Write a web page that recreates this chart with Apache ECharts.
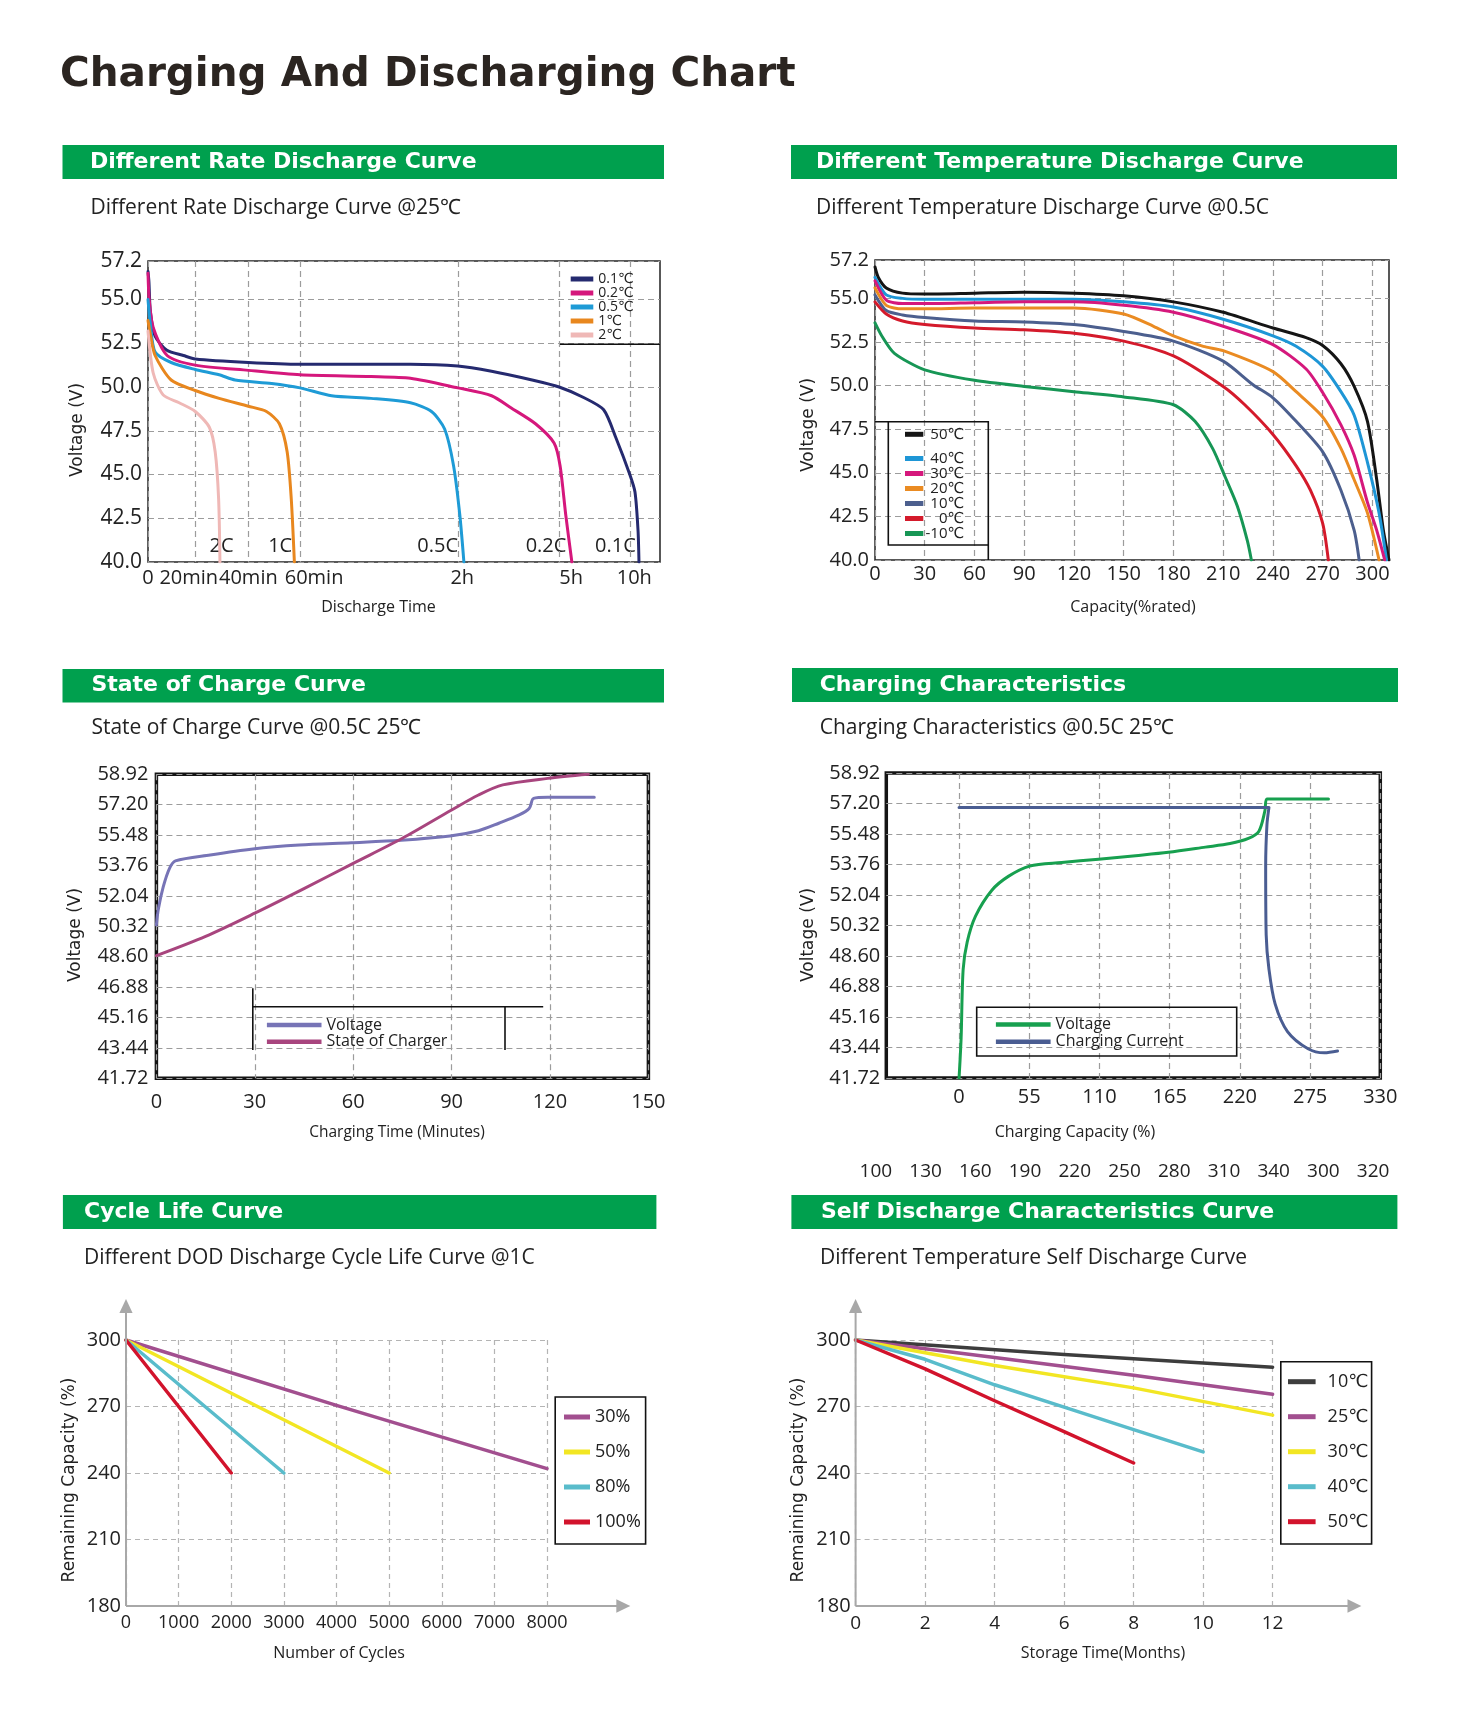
<!DOCTYPE html>
<html><head><meta charset="utf-8">
<script src="https://cdn.jsdelivr.net/npm/echarts@6/dist/echarts.min.js"></script>
<style>html,body{margin:0;padding:0;background:#fff}#c{width:1458px;height:1720px}</style>
</head><body><div id="c"></div>
<script>
// ---------------- DATA ----------------
// Panel 1: different rate discharge  [minutes, volts]
const RATE_TICK_MIN = [0, 20, 40, 60, 120, 300, 600];
const RATE_TICK_LABELS = ['0', '20min', '40min', '60min', '2h', '5h', '10h'];
const RATE_NAMES = ['0.1℃', '0.2℃', '0.5℃', '1℃', '2℃'];
const RATE_END_LABELS = ['2C', '1C', '0.5C', '0.2C', '0.1C'];
const RATE_01C = [[0,56.6],[0.4,56.0],[1.0,54.3],[3,52.9],[8,52.1],[15,51.8],[20,51.6],[40,51.4],[60,51.3],[102,51.3],[120,51.2],[180,50.9],[252,50.4],[300,50.0],[404,49.4],[489,48.7],[541,47.1],[600,45.0],[622,44.0],[635,41.8],[639,40.0]];
const RATE_02C = [[0,56.5],[0.5,55.0],[2.2,53.4],[8.1,51.8],[20,51.25],[40,50.95],[60,50.7],[87,50.6],[102,50.5],[120,49.95],[180,49.5],[215,48.8],[258,47.9],[291,46.8],[304,45.5],[328,42.7],[354,40.0]];
const RATE_05C = [[0,55.0],[1,53.6],[3,52.0],[9.8,51.4],[20,51.0],[29,50.7],[35,50.4],[49,50.2],[60,49.95],[72,49.5],[87,49.35],[102,49.1],[110,48.6],[115,47.6],[118.4,45.5],[123.6,42.7],[130.9,40.0]];
const RATE_1C = [[0,53.8],[1,53.0],[3,51.8],[9.8,50.4],[20,49.8],[29,49.35],[40,48.9],[47,48.6],[52,47.9],[55,46.3],[56.6,43.6],[57.8,40.0]];
const RATE_2C = [[0,53.2],[2.2,50.8],[6.4,49.55],[13.2,49.1],[20,48.6],[25.3,47.7],[27.5,46.3],[28.8,43.6],[29.3,40.0]];
const VOLT_TICKS_A = [40, 42.5, 45, 47.5, 50, 52.5, 55, 57.2];

// Panel 2: different temperature discharge [capacity %, volts]
const TEMP_NAMES = ['50℃', '40℃', '30℃', '20℃', '10℃', '0℃', '-10℃'];
const CAP_TICKS = [0, 30, 60, 90, 120, 150, 180, 210, 240, 270, 300];
const T_50 = [[0,56.8],[2,56.2],[6.8,55.6],[16.6,55.3],[30,55.25],[60,55.3],[90,55.35],[120,55.3],[150,55.15],[180,54.8],[210,54.2],[240,53.3],[260,52.75],[270,52.3],[281,51.25],[289,49.95],[297,47.95],[302.6,44.6],[306.6,41.7],[310,40.0]];
const T_40 = [[0,56.2],[6.8,55.2],[16.6,55.0],[30,54.95],[60,54.95],[90,54.95],[120,54.95],[150,54.8],[180,54.5],[210,53.8],[240,52.85],[254,52.25],[270,51.1],[281,49.65],[289,48.3],[297,45.6],[304,42.7],[308.5,40.0]];
const T_30 = [[0,56.0],[6.8,54.9],[16.6,54.7],[30,54.7],[60,54.75],[90,54.8],[120,54.8],[150,54.6],[180,54.2],[210,53.4],[240,52.35],[260,50.95],[270,49.6],[281,47.75],[289,46.0],[297,43.3],[302.6,41.7],[307.4,40.0]];
const T_20 = [[0,55.6],[6.8,54.6],[16.6,54.4],[30,54.4],[60,54.45],[90,54.45],[120,54.45],[150,54.1],[168,53.4],[180,52.85],[198,52.25],[210,52.0],[240,50.8],[254,49.65],[270,48.2],[281,46.4],[289,44.6],[297,42.7],[304,40.0]];
const T_10 = [[0,55.2],[6.8,54.3],[16.6,54.05],[30,53.9],[60,53.7],[90,53.65],[120,53.5],[150,53.1],[180,52.55],[210,51.4],[228,50.05],[240,49.3],[254,47.95],[270,46.2],[281,44.0],[289,41.7],[292,40.0]];
const T_0 = [[0,54.8],[6.8,54.1],[16.6,53.7],[30,53.5],[60,53.3],[90,53.2],[120,53.0],[150,52.55],[180,51.7],[210,49.95],[223,48.9],[240,47.2],[254,45.4],[262.6,44.0],[270,42.1],[273.4,40.0]];
const T_M10 = [[0,53.6],[4.4,52.8],[11.7,51.85],[30,50.9],[60,50.3],[90,49.95],[120,49.65],[150,49.35],[180,48.9],[193,47.95],[203.6,46.4],[211,44.8],[218.5,43.1],[224.6,41.1],[227,40.0]];

// Panel 3: state of charge [minutes, volts]
const VOLT_TICKS_B = [41.72, 43.44, 45.16, 46.88, 48.60, 50.32, 52.04, 53.76, 55.48, 57.20, 58.92];
const TIME_TICKS = [0, 30, 60, 90, 120, 150];
const SOC_NAMES = ['Voltage', 'State of Charger'];
const SOC_VOLTAGE = [[0,50.4],[0.6,51.3],[2.1,52.56],[4,53.6],[5.8,54.02],[16.4,54.36],[29.4,54.7],[43.6,54.92],[59.4,55.05],[74.6,55.19],[89.5,55.43],[98.2,55.73],[104.4,56.15],[110.6,56.62],[113.7,57.0],[115,57.56],[119.3,57.62],[133.5,57.62]];
const SOC_CHARGE = [[0,48.66],[15,49.75],[30,51.06],[45,52.45],[60,53.88],[75,55.3],[90,56.9],[98.2,57.75],[105.6,58.32],[119.3,58.69],[131.7,58.92]];

// Panel 4: charging characteristics [capacity %, volts]
const CHG_TICKS = [0, 55, 110, 165, 220, 275, 330];
const CHG_NAMES = ['Voltage', 'Charging Current'];
const CHG_VOLTAGE = [[0,41.72],[1.6,43.95],[3.2,47.84],[6.4,49.4],[12.9,50.85],[25.7,52.31],[38.6,53.09],[55.3,53.67],[80.4,53.87],[109.3,54.06],[138.3,54.26],[164,54.45],[193,54.74],[212.3,54.94],[226.7,55.23],[234.8,55.62],[239.6,56.78],[241.2,57.46],[289.4,57.46]];
const CHG_CURRENT = [[0,56.98],[242.8,56.98],[241.2,56.0],[240.2,53.67],[240.6,49.79],[242.8,47.84],[247.6,45.9],[257.3,44.34],[273.4,43.37],[286.2,43.14],[296.5,43.24]];
const STRAY_TICK_LABELS = ['100', '130', '160', '190', '220', '250', '280', '310', '340', '300', '320'];

// Panel 5: cycle life [cycles, remaining capacity %]
const DOD_NAMES = ['30%', '50%', '80%', '100%'];
const DOD_30 = [[0,300],[4000,270.5],[8000,242]];
const DOD_50 = [[0,300],[5000,240]];
const DOD_80 = [[0,300],[3000,240]];
const DOD_100 = [[0,300],[2000,240]];

// Panel 6: self discharge [months, remaining capacity %]
const SD_NAMES = ['10℃', '25℃', '30℃', '40℃', '50℃'];
const SD_10 = [[0,300],[6,293.5],[12,287.7]];
const SD_25 = [[0,300],[4,292.1],[8,284.1],[12,275.5]];
const SD_30 = [[0,300],[4,288.5],[8,278.4],[12,266.1]];
const SD_40 = [[0,300],[2,291.3],[4,279.8],[6,269.7],[8,259.6],[10,249.5]];
const SD_50 = [[0,300],[2,287],[4,272.6],[6,258.7],[8,244.5]];

// ---------------- LAYOUT / STYLE ----------------
const FONT = '"Open Sans", "DejaVu Sans", sans-serif';
const INK = '#222';
const GREEN = '#00a04e';
// non-linear time axis layout for panel 1 (axis units 0..100)
const RATE_AXIS_POS = [0, 9.23, 19.6, 29.7, 60.5, 80.3, 94.1];
const RATE_LABEL_STYLE = ['c', 'l13', 'c', 'r28', 'r9', 'r24', 'r9'];
function timeToPos(m) {
  const T = RATE_TICK_MIN, P = RATE_AXIS_POS;
  let i = 1;
  while (i < T.length - 1 && m > T[i]) i++;
  return P[i-1] + (m - T[i-1]) * (P[i] - P[i-1]) / (T[i] - T[i-1]);
}
const rateRich = {};
['c', 'l13', 'r28', 'r9', 'r24'].forEach(k => {
  const n = k === 'c' ? 0 : +k.slice(1);
  rateRich[k] = {fontSize:20, fontFamily:FONT, color:INK,
    padding: k[0] === 'l' ? [0, n, 0, 0] : (k[0] === 'r' ? [0, 0, 0, n] : 0)};
});

const GRIDS = [
  {left:148, top:261, width:512, height:301},
  {left:875, top:260, width:514, height:300},
  {left:156.4, top:774.3, width:492, height:304},
  {left:886.3, top:773, width:494, height:305},
  {left:126, top:1340, width:421, height:266},
  {left:855.6, top:1340, width:417, height:266},
  {left:851, top:1150, width:547, height:4}
];

const dashed = {show:true, lineStyle:{color:'#9c9c9c', width:1.2, type:[6,4]}};
const dashed2 = {show:true, lineStyle:{color:'#b4b4b4', width:1.2, type:[5,4]}};
function lbl(size, margin, fmt, custom) {
  const o = {fontSize:size, margin:margin, color:INK, fontFamily:FONT};
  if (fmt) o.formatter = fmt;
  if (custom) o.customValues = custom;
  return o;
}
function valAxis(gi, min, max, custom, label, split) {
  return {gridIndex:gi, type:'value', min:min, max:max,
    axisLine:{show:false}, axisTick:{show:false, customValues:custom},
    axisLabel:label, splitLine:split || dashed};
}
const rateLabel = lbl(20, 6, v => {
  const i = RATE_AXIS_POS.findIndex(p => Math.abs(p - v) < 0.01);
  return i < 0 ? '' : '{' + RATE_LABEL_STYLE[i] + '|' + RATE_TICK_LABELS[i] + '}';
}, RATE_AXIS_POS);
rateLabel.rich = rateRich;

const xAxes = [
  valAxis(0, 0, 100, RATE_AXIS_POS, rateLabel),
  valAxis(1, 0, 310, CAP_TICKS, lbl(20, 4, null, CAP_TICKS)),
  valAxis(2, 0, 150, TIME_TICKS, lbl(20, 14, null, TIME_TICKS)),
  valAxis(3, -57, 330, CHG_TICKS, lbl(20, 9, null, CHG_TICKS)),
  {gridIndex:4, type:'value', min:0, max:8000, interval:1000, axisLine:{show:false}, axisTick:{show:false}, axisLabel:lbl(18, 8, v => String(v)), splitLine:dashed2},
  {gridIndex:5, type:'value', min:0, max:12, interval:2, axisLine:{show:false}, axisTick:{show:false}, axisLabel:lbl(19, 8, v => String(v)), splitLine:dashed2},
  {gridIndex:6, type:'category', data:STRAY_TICK_LABELS, axisLine:{show:false}, axisTick:{show:false}, axisLabel:Object.assign(lbl(19, 8), {interval:0}), splitLine:{show:false}}
];
const yAxes = [
  valAxis(0, 40, 57.2, VOLT_TICKS_A, lbl(21, 6, v => v.toFixed(1), VOLT_TICKS_A)),
  valAxis(1, 40, 57.2, VOLT_TICKS_A, lbl(20, 6, v => v.toFixed(1), VOLT_TICKS_A)),
  valAxis(2, 41.72, 58.92, VOLT_TICKS_B, lbl(20, 8, v => v.toFixed(2), VOLT_TICKS_B)),
  valAxis(3, 41.72, 58.92, VOLT_TICKS_B, lbl(20, 6, v => v.toFixed(2), VOLT_TICKS_B)),
  {gridIndex:4, type:'value', min:180, max:300, interval:30, axisLine:{show:false}, axisTick:{show:false}, axisLabel:lbl(20, 5, v => String(v)), splitLine:dashed2},
  {gridIndex:5, type:'value', min:180, max:300, interval:30, axisLine:{show:false}, axisTick:{show:false}, axisLabel:lbl(20, 5, v => String(v)), splitLine:dashed2},
  {gridIndex:6, type:'value', show:false}
];

function line(name, data, color, gi, width, smooth) {
  return {type:'line', name:name, data:data, xAxisIndex:gi, yAxisIndex:gi, symbol:'none', showSymbol:false,
    smooth:smooth, lineStyle:{color:color, width:width, cap:'round', join:'round'}, itemStyle:{color:color},
    silent:true, animation:false, z:3};
}

const RATE_COLORS = ['#252a6f', '#d5177c', '#1e9bd6', '#e8871e', '#efb8b6'];
const TEMP_COLORS = ['#151515', '#1e96d6', '#d5187c', '#ea8b22', '#4c5f8e', '#d41a2b', '#179655'];
const SOC_COLORS = ['#7774b6', '#a8457e'];
const CHG_COLORS = ['#17a04f', '#4a5d92'];
const DOD_COLORS = ['#a24f8f', '#f2e623', '#59bccb', '#d2132c'];
const SD_COLORS = ['#3d3d3d', '#a24f8f', '#f2e623', '#59bccb', '#d2132c'];

const toPos = arr => arr.map(d => [timeToPos(d[0]), d[1]]);
const series = [];
[RATE_01C, RATE_02C, RATE_05C, RATE_1C, RATE_2C].forEach((d, i) => series.push(line(RATE_NAMES[i], toPos(d), RATE_COLORS[i], 0, 3, 0.25)));
[T_50, T_40, T_30, T_20, T_10, T_0, T_M10].forEach((d, i) => series.push(line(TEMP_NAMES[i], d, TEMP_COLORS[i], 1, 3, 0.25)));
[SOC_VOLTAGE, SOC_CHARGE].forEach((d, i) => series.push(line(SOC_NAMES[i], d, SOC_COLORS[i], 2, 3, 0.3)));
[CHG_VOLTAGE, CHG_CURRENT].forEach((d, i) => series.push(line(CHG_NAMES[i] + (i === 0 ? ' ' : ''), d, CHG_COLORS[i], 3, 3, 0.3)));
[DOD_30, DOD_50, DOD_80, DOD_100].forEach((d, i) => series.push(line(DOD_NAMES[i], d, DOD_COLORS[i], 4, 3.5, false)));
[SD_10, SD_25, SD_30, SD_40, SD_50].forEach((d, i) => series.push(line(SD_NAMES[i] + ' ', d, SD_COLORS[i], 5, 3.5, false)));

function legend(names, colors, left, top, o) {
  return Object.assign({orient:'vertical', icon:'rect', padding:0, selectedMode:false, left:left, top:top, z:20,
    data:names.map((n, i) => ({name:n, itemStyle:{color:colors[i], borderWidth:0}})),
    itemGap:0, itemWidth:22, itemHeight:5,
    textStyle:{fontSize:14, lineHeight:14, color:INK, fontFamily:FONT}}, o || {});
}
const tempLegendText = {fontSize:15, lineHeight:14.4, color:INK, fontFamily:FONT,
  rich:{r:{width:36, align:'right', fontSize:15, lineHeight:14.4, color:INK, fontFamily:FONT}}};
const legends = [
  legend(RATE_NAMES, RATE_COLORS, 570.7, 272, {itemWidth:22.6, itemHeight:5}),
  legend(TEMP_NAMES.slice(0, 1), TEMP_COLORS.slice(0, 1), 905, 426.8, {itemWidth:18.3, formatter:n => '{r|' + n + '}', textStyle:tempLegendText}),
  legend(TEMP_NAMES.slice(1), TEMP_COLORS.slice(1), 905, 451, {itemWidth:18.3, itemGap:0, formatter:n => '{r|' + n + '}', textStyle:tempLegendText}),
  legend(SOC_NAMES, SOC_COLORS, 266.9, 1017, {itemWidth:54.6, itemHeight:4.5, itemGap:0.7, textStyle:{fontSize:16, lineHeight:16, color:INK, fontFamily:FONT}}),
  legend(CHG_NAMES.map((n, i) => n + (i === 0 ? ' ' : '')), CHG_COLORS, 995.9, 1016.5, {itemWidth:54.7, itemHeight:4.5, itemGap:1.3, textStyle:{fontSize:16, lineHeight:16, color:INK, fontFamily:FONT}}),
  legend(DOD_NAMES, DOD_COLORS, 564, 1408, {itemWidth:26, itemHeight:5, itemGap:17, textStyle:{fontSize:18, lineHeight:18, color:INK, fontFamily:FONT}}),
  legend(SD_NAMES.map(n => n + ' '), SD_COLORS, 1288, 1372.7, {itemWidth:27.6, itemHeight:5, itemGap:17, textStyle:{fontSize:18, lineHeight:18, color:INK, fontFamily:FONT, padding:[0,0,0,7]}})
];

// ---------------- DECORATION (text, headers, frames) ----------------
function txt(x, y, text, font, fill) {
  return {type:'text', x:x, y:y, silent:true, style:{text:text, font:font, fill:fill || INK, align:'left', verticalAlign:'middle'}};
}
function vtxt(x, y, text, font) {
  return {type:'text', x:x, y:y, rotation:Math.PI/2, silent:true, style:{text:text, font:font, fill:INK, align:'center', verticalAlign:'middle'}};
}
function ctxt(x, y, text, font) {
  return {type:'text', x:x, y:y, silent:true, style:{text:text, font:font, fill:INK, align:'center', verticalAlign:'middle'}};
}
function header(x, y, w, h, text, tx) {
  return [
    {type:'rect', silent:true, shape:{x:x, y:y, width:w, height:h}, style:{fill:GREEN}},
    {type:'text', x:tx, y:y + h / 2, silent:true, style:{text:text, font:'bold 22px "DejaVu Sans"', fill:'#ffffff', align:'left', verticalAlign:'middle'}}
  ];
}
function pl(points, w, color) {
  return {type:'polyline', silent:true, z:10, shape:{points:points}, style:{stroke:color || '#111', lineWidth:w || 1.5, fill:null}};
}
const SUB = '21px "Open Sans"';
const AXN = '16px "Open Sans"';
const VN = '17px "DejaVu Sans"';
const AXC = '#a8a8a8';
const EL = '20px "Open Sans"';

const graphics = [].concat(
  [txt(60, 75, 'Charging And Discharging Chart', 'bold 40.5px "DejaVu Sans"', '#2b2521')],
  header(62.5, 145, 601.5, 34, 'Different Rate Discharge Curve', 90),
  header(791, 145, 606, 34, 'Different Temperature Discharge Curve', 816),
  header(62.5, 669, 601.5, 33.5, 'State of Charge Curve', 91.4),
  header(792, 668, 606, 34, 'Charging Characteristics', 819.7),
  header(62.9, 1195, 593.5, 34, 'Cycle Life Curve', 84),
  header(791.4, 1195, 606, 34, 'Self Discharge Characteristics Curve', 820.9),
  [
    txt(90.4, 208, 'Different Rate Discharge Curve @25℃', SUB),
    txt(816, 208, 'Different Temperature Discharge Curve @0.5C', SUB),
    txt(91.4, 728.5, 'State of Charge Curve @0.5C 25℃', SUB),
    txt(819.7, 728, 'Charging Characteristics @0.5C 25℃', SUB),
    txt(84, 1258.5, 'Different DOD Discharge Cycle Life Curve @1C', SUB),
    txt(820, 1258.5, 'Different Temperature Self Discharge Curve', SUB),

    vtxt(78, 430, 'Voltage (V)', VN),
    ctxt(378.5, 607, 'Discharge Time', AXN),
    vtxt(808.6, 425, 'Voltage (V)', VN),
    ctxt(1133, 607, 'Capacity(%rated)', AXN),
    vtxt(76, 935, 'Voltage (V)', VN),
    ctxt(397, 1133, 'Charging Time (Minutes)', '15.5px "Open Sans"'),
    vtxt(808.6, 935, 'Voltage (V)', VN),
    ctxt(1075, 1132, 'Charging Capacity (%)', AXN),
    vtxt(70, 1480, 'Remaining Capacity (%)', VN),
    ctxt(339, 1653, 'Number of Cycles', AXN),
    vtxt(798.4, 1480, 'Remaining Capacity (%)', VN),
    ctxt(1103, 1653, 'Storage Time(Months)', AXN),

    ctxt(221.6, 546.7, RATE_END_LABELS[0], EL),
    ctxt(280.2, 546.7, RATE_END_LABELS[1], EL),
    ctxt(437.7, 546.7, RATE_END_LABELS[2], EL),
    ctxt(546, 546.7, RATE_END_LABELS[3], EL),
    ctxt(615.4, 546.7, RATE_END_LABELS[4], EL),

    // legend frames
    pl([[560, 344.3], [660, 344.3]], 1.6),
    pl([[875, 421.7], [988.3, 421.7], [988.3, 560]], 1.6),
    pl([[888.3, 421.7], [888.3, 545], [988.3, 545]], 1.6),
    pl([[252.8, 988.3], [252.8, 1050]], 1.6),
    pl([[252.8, 1006.7], [543.2, 1006.7]], 1.6),
    pl([[505, 1006.7], [505, 1050]], 1.6),
    {type:'rect', silent:true, z:10, shape:{x:976.7, y:1007.3, width:260, height:48.7}, style:{fill:null, stroke:'#111', lineWidth:1.6}},
    {type:'rect', silent:true, z:1, shape:{x:555.2, y:1397, width:90.4, height:147}, style:{fill:'#fff', stroke:'#111', lineWidth:1.6}},
    {type:'rect', silent:true, z:1, shape:{x:1280.8, y:1361.7, width:90.8, height:182.3}, style:{fill:'#fff', stroke:'#111', lineWidth:1.6}},

    // arrowed axes for cycle life / self discharge
    pl([[126, 1606], [126, 1311]], 2, AXC),
    pl([[126, 1606], [617, 1606]], 2, AXC),
    {type:'polygon', silent:true, z:10, shape:{points:[[126, 1299], [119.4, 1313], [132.6, 1313]]}, style:{fill:AXC}},
    {type:'polygon', silent:true, z:10, shape:{points:[[630.3, 1606], [616.3, 1599.3], [616.3, 1612.7]]}, style:{fill:AXC}},
    pl([[855.6, 1606], [855.6, 1311]], 2, AXC),
    pl([[855.6, 1606], [1348, 1606]], 2, AXC),
    {type:'polygon', silent:true, z:10, shape:{points:[[855.6, 1299], [849, 1313], [862.2, 1313]]}, style:{fill:AXC}},
    {type:'polygon', silent:true, z:10, shape:{points:[[1361.4, 1606], [1347.5, 1599.3], [1347.5, 1612.7]]}, style:{fill:AXC}}
  ]
);

const grids = GRIDS.map((g, i) => Object.assign({}, g, {
  show: i < 4, borderColor: i >= 2 ? '#141414' : '#222', borderWidth: i >= 2 ? 3.5 : 1.5,
  backgroundColor:'transparent', containLabel:false, outerBoundsMode:'none'
}));

const chart = echarts.init(document.getElementById('c'), null, {renderer:'canvas', width:1458, height:1720});
chart.setOption({
  animation:false,
  backgroundColor:'#ffffff',
  textStyle:{fontFamily:FONT},
  grid:grids,
  xAxis:xAxes,
  yAxis:yAxes,
  legend:legends,
  series:series,
  graphic:{elements:graphics}
});
</script></body></html>
